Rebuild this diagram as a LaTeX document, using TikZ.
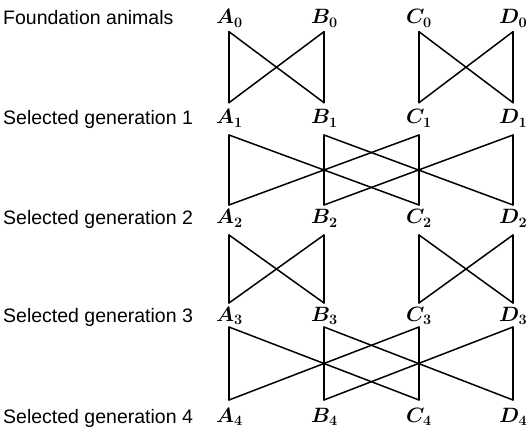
\documentclass[tikz,border=0pt]{standalone}
\usepackage{fontspec}
\setmainfont{Liberation Sans}
\begin{document}
\begin{tikzpicture}[x=1pt,y=-1pt,
  gen/.style={anchor=base west,inner sep=0pt,font=\fontsize{19.5}{22}\selectfont},
  animal/.style={anchor=base west,inner sep=0pt,font=\fontsize{20}{22}\selectfont\boldmath},
  link/.style={line width=1.5pt,line cap=round,line join=round}]
\useasboundingbox (0,0) rectangle (528,433);
% row labels
\node[gen] (g0) at (3,25) {Foundation animals};
\node[gen] (g1) at (3,125) {Selected generation 1};
\node[gen] (g2) at (3,225) {Selected generation 2};
\node[gen] (g3) at (3,322) {Selected generation 3};
\node[gen] (g4) at (3,423) {Selected generation 4};
% columns
\def\xA{229}\def\xB{324}\def\xC{419}\def\xD{513}
% animal labels
\foreach \g/\y in {0/24,1/124,2/224,3/321,4/422}{
  \node[animal] (A\g) at (\xA-13,\y) {$A_{\g}$};
  \node[animal] (B\g) at (\xB-13,\y) {$B_{\g}$};
  \node[animal] (C\g) at (\xC-13,\y) {$C_{\g}$};
  \node[animal] (D\g) at (\xD-14,\y) {$D_{\g}$};
}
% attachment points: d = below label, u = above label
\foreach \g/\yu/\yd in {0/0/31.7,1/102.7/135,2/205/235,3/303/327,4/400/433}{
  \coordinate (A\g u) at (\xA,\yu); \coordinate (A\g d) at (\xA,\yd);
  \coordinate (B\g u) at (\xB,\yu); \coordinate (B\g d) at (\xB,\yd);
  \coordinate (C\g u) at (\xC,\yu); \coordinate (C\g d) at (\xC,\yd);
  \coordinate (D\g u) at (\xD,\yu); \coordinate (D\g d) at (\xD,\yd);
}
% pair matings (generations 0->1 and 2->3)
\foreach \p/\n in {0/1,2/3}{
  \draw[link] (A\p d) -- (A\n u);
  \draw[link] (B\p d) -- (B\n u);
  \draw[link] (A\p d) -- (B\n u);
  \draw[link] (B\p d) -- (A\n u);
  \draw[link] (C\p d) -- (C\n u);
  \draw[link] (D\p d) -- (D\n u);
  \draw[link] (C\p d) -- (D\n u);
  \draw[link] (D\p d) -- (C\n u);
}
% crossed matings (generations 1->2 and 3->4)
\foreach \p/\n in {1/2,3/4}{
  \draw[link] (A\p d) -- (A\n u);
  \draw[link] (B\p d) -- (B\n u);
  \draw[link] (C\p d) -- (C\n u);
  \draw[link] (D\p d) -- (D\n u);
  \draw[link] (A\p d) -- (C\n u);
  \draw[link] (C\p d) -- (A\n u);
  \draw[link] (B\p d) -- (D\n u);
  \draw[link] (D\p d) -- (B\n u);
}
\end{tikzpicture}
\end{document}
